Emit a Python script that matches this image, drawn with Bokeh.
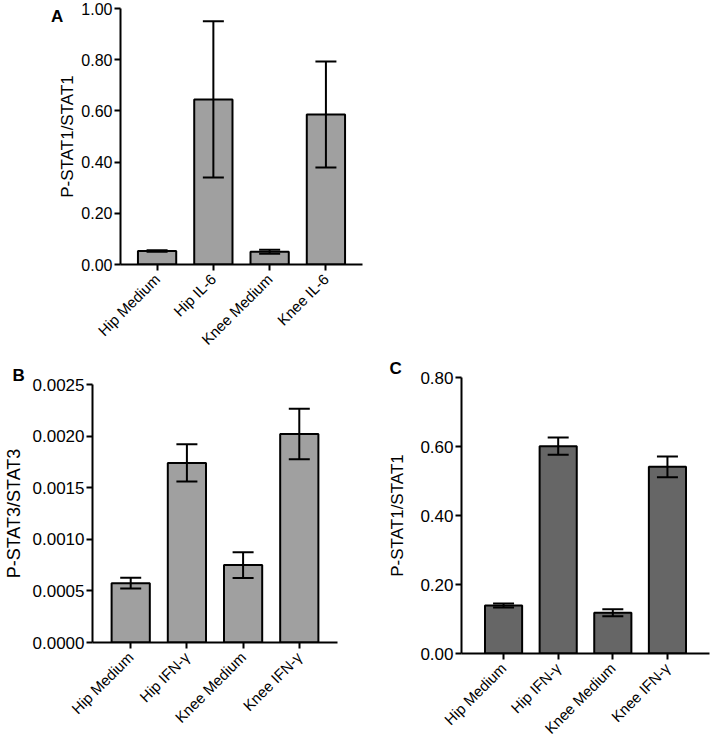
import math
from bokeh.plotting import figure
from bokeh.models import (Range1d, FixedTicker, Whisker, TeeHead, ColumnDataSource,
                          Title, Div, NumeralTickFormatter)
from bokeh.layouts import column, row
from bokeh.embed import file_html
from bokeh.resources import INLINE

# ---------------- data ----------------
cats_a = ["Hip Medium", "Hip IL-6", "Knee Medium", "Knee IL-6"]
vals_a = [0.053, 0.645, 0.050, 0.586]
err_a = [0.003, 0.305, 0.008, 0.207]
ticks_a = [0.0, 0.2, 0.4, 0.6, 0.8, 1.0]

cats_b = ["Hip Medium", "Hip IFN-γ", "Knee Medium", "Knee IFN-γ"]
vals_b = [0.000575, 0.00174, 0.000750, 0.00202]
err_b = [0.000052, 0.00018, 0.000124, 0.000245]
ticks_b = [0.0, 0.0005, 0.0010, 0.0015, 0.0020, 0.0025]

cats_c = ["Hip Medium", "Hip IFN-γ", "Knee Medium", "Knee IFN-γ"]
vals_c = [0.139, 0.601, 0.118, 0.541]
err_c = [0.006, 0.025, 0.010, 0.030]
ticks_c = [0.0, 0.2, 0.4, 0.6, 0.8]

FONT = "Liberation Sans"


def panel(cats, vals, errs, yticks, fmt, ylabel, color,
          frame_w, frame_h, pad, borders, title_standoff,
          ytick_size="16px", ytitle_size="17px", letter=None, letter_offset=0):
    xs = list(range(len(cats)))
    src = ColumnDataSource(dict(
        x=xs, top=vals,
        upper=[v + e for v, e in zip(vals, errs)],
        lower=[v - e for v, e in zip(vals, errs)],
    ))
    left, right, top, bottom = borders
    p = figure(frame_width=frame_w, frame_height=frame_h, title=None,
               x_range=Range1d(-0.5 - pad, len(cats) - 0.5 + pad),
               y_range=Range1d(yticks[0], yticks[-1]),
               min_border_left=left, min_border_right=right,
               min_border_top=top, min_border_bottom=bottom,
               output_backend="svg", toolbar_location=None,
               background_fill_color="white", border_fill_color=None)
    p.outline_line_color = None
    p.xgrid.visible = False
    p.ygrid.visible = False

    if letter is not None:
        p.add_layout(Title(text=letter, align="left", offset=letter_offset, standoff=0,
                           text_font=FONT, text_font_size="17px",
                           text_font_style="bold", text_color="black"), "above")

    p.vbar(x="x", top="top", width=0.68, source=src, fill_color=color,
           line_color="black", line_width=2)
    w = Whisker(base="x", upper="upper", lower="lower", source=src,
                line_color="black", line_width=2,
                upper_head=TeeHead(size=21, line_color="black", line_width=2),
                lower_head=TeeHead(size=21, line_color="black", line_width=2),
                level="overlay")
    p.add_layout(w)

    for ax in (p.xaxis[0], p.yaxis[0]):
        ax.axis_line_width = 2
        ax.axis_line_color = "black"
        ax.major_tick_line_width = 2
        ax.major_tick_line_color = "black"
        ax.major_tick_out = 6
        ax.major_tick_in = 0
        ax.minor_tick_line_color = None
        ax.major_label_text_font = FONT
        ax.major_label_text_color = "black"

    p.xaxis.ticker = FixedTicker(ticks=xs)
    p.xaxis.major_label_overrides = {i: c for i, c in enumerate(cats)}
    p.xaxis.major_label_orientation = math.pi / 4
    p.xaxis.major_label_standoff = 6
    p.xaxis.major_label_text_font_size = "15px"

    p.yaxis.ticker = FixedTicker(ticks=yticks)
    p.yaxis.formatter = NumeralTickFormatter(format=fmt)
    p.yaxis.major_label_standoff = 2
    p.yaxis.major_label_text_font_size = ytick_size
    p.yaxis.axis_label = ylabel
    p.yaxis.axis_label_text_font = FONT
    p.yaxis.axis_label_text_font_size = ytitle_size
    p.yaxis.axis_label_text_font_style = "normal"
    p.yaxis.axis_label_text_color = "black"
    p.yaxis.axis_label_standoff = title_standoff
    return p


div_a = Div(text='<div style="margin:2px 0 0 46px;font-family:\'Liberation Sans\';'
                 'font-size:17px;font-weight:bold;color:black;line-height:20px;'
                 'white-space:nowrap">A</div>',
            width=40, height=30, styles={"overflow": "visible"})

pa = panel(cats_a, vals_a, err_a, ticks_a, "0.00", "P-STAT1/STAT1", "#a0a0a0",
           242, 256, 0.15, (70, 8, 8, 72), 1, "16px", "17px")
pb = panel(cats_b, vals_b, err_b, ticks_b, "0.0000", "P-STAT3/STAT3", "#a0a0a0",
           245, 258, 0.18, (80, 13, 28, 88), 6, "17px", "18px", "B", -80)
pc = panel(cats_c, vals_c, err_c, ticks_c, "0.00", "P-STAT1/STAT1", "#666666",
           248, 276, 0.27, (111, 1, 20, 84), 10, "17px", "17px", "C", -72)

layout = column(row(div_a, pa), row(pb, column(pc)))

open("out.html", "w").write(file_html(layout, INLINE))
